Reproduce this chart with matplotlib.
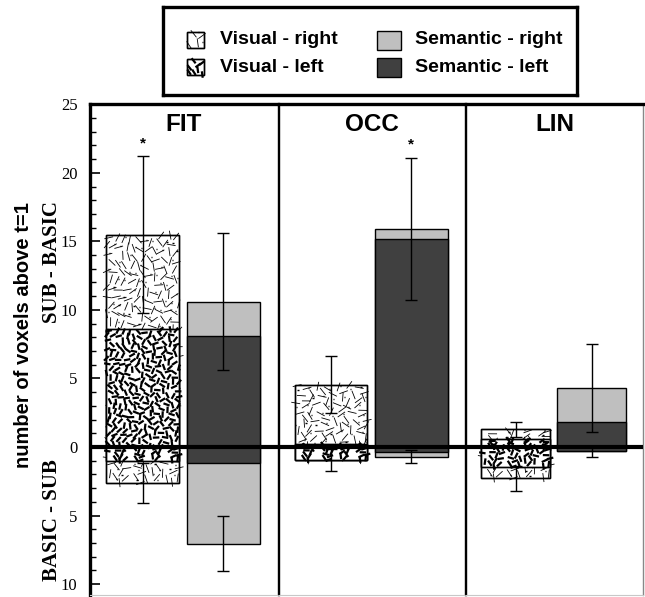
import numpy as np
import matplotlib
matplotlib.use("Agg")
import matplotlib.pyplot as plt
from matplotlib.patches import Rectangle
from matplotlib.collections import LineCollection
from matplotlib.transforms import IdentityTransform
from matplotlib.ticker import MultipleLocator, FuncFormatter

# ---------------- data ----------------
regions = ["FIT", "OCC", "LIN"]
# Visual condition (hatched bars)
vis_right_up = [15.5, 4.55, 1.3]
vis_left_up = [8.6, 0.2, 0.6]
vis_right_down = [2.65, 0.95, 2.3]
vis_left_down = [1.0, 0.95, 1.45]
vis_err_up = [5.7, 2.1, 0.55]
vis_err_down = [1.46, 0.8, 0.9]
vis_sig = [True, False, False]
# Semantic condition (grey bars)
sem_right_up = [10.6, 15.9, 4.32]
sem_left_up = [8.1, 15.16, 1.85]
sem_right_down = [7.07, 0.7, 0.3]
sem_left_down = [1.2, 0.39, 0.29]
sem_err_up = [5.0, 5.2, 3.2]
sem_err_down = [2.0, 0.47, 0.4]
sem_sig = [False, True, False]

legend_labels = ["Visual - right", "Visual - left", "Semantic - right", "Semantic - left"]

# ---------------- styling ----------------
W, H = 645, 597
fig = plt.figure(figsize=(W / 100, H / 100), dpi=100)
SANS = ["Liberation Sans", "DejaVu Sans"]
SERIF = ["Liberation Serif", "DejaVu Serif"]
LIGHT = "#bfbfbf"
DARK = "#404040"


def px_axes(x0, y0, x1, y1):
    return fig.add_axes([x0 / W, 1 - y1 / H, (x1 - x0) / W, (y1 - y0) / H])


def texture(ax, patch, kind, z):
    bb = patch.get_window_extent()
    if bb.width <= 0 or bb.height <= 0:
        return
    area = bb.width * bb.height
    if kind == "light":
        spacing, L, lw = 60.0, 9.0, 0.6
    else:
        spacing, L, lw = 33.0, 6.5, 1.6
    n = max(int(area / spacing), 3)
    i = np.arange(1, n + 1)
    g = 1.32471795724474602596
    u = (0.37 + i / g) % 1.0
    v = (0.61 + i / g ** 2) % 1.0
    th = ((i * i * 0.41421356 + i * 0.2718) % 1.0) * np.pi
    xc = bb.x0 + u * bb.width
    yc = bb.y0 + v * bb.height
    dx = np.cos(th) * L / 2
    dy = np.sin(th) * L / 2
    segs = np.stack([np.stack([xc - dx, yc - dy], 1), np.stack([xc + dx, yc + dy], 1)], 1)
    lc = LineCollection(segs, colors="black", linewidths=lw, transform=IdentityTransform(),
                        zorder=z, capstyle="butt")
    lc.set_clip_path(patch)
    ax.add_collection(lc, autolim=False)
    if kind == "light":
        m = n // 2
        j = np.arange(1, m + 1)
        du = (0.11 + j * 0.7548776662) % 1.0
        dv = (0.83 + j * 0.5698402910) % 1.0
        dots = LineCollection(
            np.stack([np.stack([bb.x0 + du * bb.width, bb.y0 + dv * bb.height], 1),
                      np.stack([bb.x0 + du * bb.width + 1.2, bb.y0 + dv * bb.height], 1)], 1),
            colors="black", linewidths=1.0, transform=IdentityTransform(), zorder=z)
        dots.set_clip_path(patch)
        ax.add_collection(dots, autolim=False)


panel_px = [(90, 277.5), (278.5, 465), (466, 643)]
TOP, BOT = 104.3, 595
YMIN, YMAX = -10.8, 25
XMIN, XMAX = -0.72, 1.84
pos_vis, pos_sem, bw = 0.0, 1.1, 1.0

axes = []
for k, name in enumerate(regions):
    x0, x1 = panel_px[k]
    ax = px_axes(x0, TOP, x1, BOT)
    axes.append(ax)
    ax.set_xlim(XMIN, XMAX)
    ax.set_ylim(YMIN, YMAX)
    ax.set_xticks([])
    for s in ["left", "right"]:
        ax.spines[s].set_linewidth(1.0)
    ax.spines["top"].set_linewidth(2.4)
    ax.spines["bottom"].set_linewidth(0.8)
    ax.spines["bottom"].set_color("#c8c8c8")
    if k == 0:
        ax.spines["left"].set_linewidth(2.4)
        ax.yaxis.set_major_locator(MultipleLocator(5))
        ax.yaxis.set_minor_locator(MultipleLocator(1))
        ax.yaxis.set_major_formatter(FuncFormatter(lambda v, p: "%d" % abs(round(v))))
        ax.tick_params(axis="y", which="major", direction="in", length=7, width=1.2, pad=9,
                       labelsize=12, right=False)
        ax.tick_params(axis="y", which="minor", direction="in", length=4, width=1.0, right=False)
        for t in ax.get_yticklabels():
            t.set_fontfamily(SERIF)
    else:
        ax.set_yticks([])
        ax.tick_params(axis="y", which="minor", left=False, right=False)
    if k == 2:
        ax.spines["right"].set_color("#888888")

    # bars: right hemisphere first, left hemisphere in front
    groups = [
        (pos_vis, vis_right_up[k], vis_right_down[k], vis_left_up[k], vis_left_down[k],
         "white", "white", "light", "dark"),
        (pos_sem, sem_right_up[k], sem_right_down[k], sem_left_up[k], sem_left_down[k],
         LIGHT, DARK, None, None),
    ]
    for (xp, ru, rd, lu, ld, fr, fl, tr, tl) in groups:
        for val, fc, tx, z in [(ru, fr, tr, 2.0), (-rd, fr, tr, 2.0), (lu, fl, tl, 2.4), (-ld, fl, tl, 2.4)]:
            b = ax.bar(xp, val, width=bw, color=fc, edgecolor="black", linewidth=1.0, zorder=z)[0]
            if tx is not None:
                texture(ax, b, tx, z + 0.1)
                ax.bar(xp, val, width=bw, fill=False, edgecolor="black", linewidth=1.0, zorder=z + 0.2)

    # error bars (right hemisphere)
    for xp, ru, rd, eu, ed, sig in [
        (pos_vis, vis_right_up[k], vis_right_down[k], vis_err_up[k], vis_err_down[k], vis_sig[k]),
        (pos_sem, sem_right_up[k], sem_right_down[k], sem_err_up[k], sem_err_down[k], sem_sig[k]),
    ]:
        ax.errorbar([xp, xp], [ru, -rd], yerr=[eu, ed], fmt="none", ecolor="black",
                    elinewidth=1.0, capsize=4.5, capthick=1.0, zorder=3)
        if sig:
            ax.text(xp, ru + eu + 0.45, "*", ha="center", va="bottom", fontsize=11,
                    fontweight="bold", family=SANS, zorder=5)

    ax.axhline(0, color="black", linewidth=3.0, zorder=4)
    ax.text(0.5 * (XMIN + XMAX), 24.35, name, ha="center", va="top", fontsize=17.5,
            fontweight="bold", family=SANS)

# ---------------- axis labels ----------------
fig.text(24 / W, 1 - 335 / H, "number of voxels above t=1", rotation=90, ha="center", va="center",
         fontsize=14.5, fontweight="bold", family=SANS)
fig.text(52 / W, 1 - 262 / H, "SUB - BASIC", rotation=90, ha="center", va="center",
         fontsize=15, fontweight="bold", family=SERIF)
fig.text(52 / W, 1 - 520 / H, "BASIC - SUB", rotation=90, ha="center", va="center",
         fontsize=15, fontweight="bold", family=SERIF)

# ---------------- legend ----------------
LX0, LY0, LX1, LY1 = 163, 7, 577, 95
lax = px_axes(LX0, LY0, LX1, LY1)
lax.set_xlim(0, LX1 - LX0)
lax.set_ylim(LY1 - LY0, 0)
lax.set_xticks([])
lax.set_yticks([])
for s in lax.spines.values():
    s.set_linewidth(2.4)

rows = [40 - LY0, 67 - LY0]
entries = [
    (legend_labels[0], 24, rows[0], 17, 16, "white", "light"),
    (legend_labels[1], 24, rows[1], 17, 16, "white", "dark"),
    (legend_labels[2], 214, rows[0], 24, 19, LIGHT, None),
    (legend_labels[3], 214, rows[1], 24, 19, DARK, None),
]
for lab, sx, cy, sw, sh, fc, tx in entries:
    r = Rectangle((sx, cy - sh / 2), sw, sh, facecolor=fc, edgecolor="black", linewidth=1.0, zorder=2)
    lax.add_patch(r)
    if tx is not None:
        texture(lax, r, tx, 2.1)
        lax.add_patch(Rectangle((sx, cy - sh / 2), sw, sh, fill=False, edgecolor="black",
                                linewidth=1.0, zorder=2.2))
    tx0 = 57 if sx < 100 else 252
    lax.text(tx0, cy, lab, ha="left", va="center", fontsize=14, fontweight="bold", family=SANS)

fig.savefig("out.png", dpi=100)
